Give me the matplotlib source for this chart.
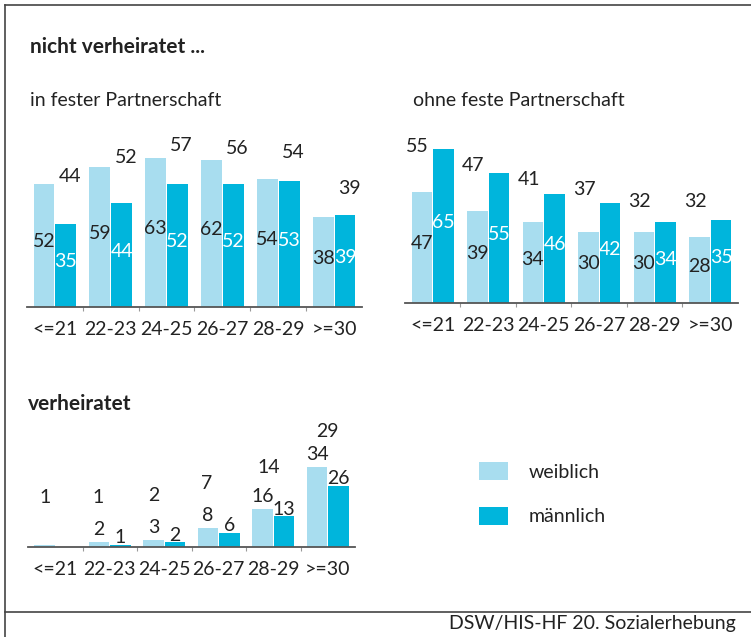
import matplotlib.pyplot as plt
import matplotlib.lines as mlines
import numpy as np

plt.rcParams['font.family'] = ['Lato', 'DejaVu Sans']

groups = ["<=21", "22-23", "24-25", "26-27", "28-29", ">=30"]

# nicht verheiratet, in fester Partnerschaft
fest_w = [52, 59, 63, 62, 54, 38]
fest_m = [35, 44, 52, 52, 53, 39]
fest_total = [44, 52, 57, 56, 54, 39]

# nicht verheiratet, ohne feste Partnerschaft
ohne_w = [47, 39, 34, 30, 30, 28]
ohne_m = [65, 55, 46, 42, 34, 35]
ohne_total = [55, 47, 41, 37, 32, 32]

# verheiratet
verh_w = [0.7, 2, 3, 8, 16, 34]
verh_m = [0, 1, 2, 6, 13, 26]
verh_total = [1, 1, 2, 7, 14, 29]

light = "#a8ddef"
dark = "#00b5dc"
txt = "#222222"
fs = 14
W, H = 751, 637

fig = plt.figure(figsize=(W / 100, H / 100), dpi=100)


def make_ax(left, right, base, top, scale):
    ax = fig.add_axes([left / W, (H - base) / H, (right - left) / W, (base - top) / H])
    ax.set_xlim(-0.5, 5.5)
    ax.set_ylim(0, (base - top) / scale)
    for s in ["top", "right", "left"]:
        ax.spines[s].set_visible(False)
    ax.spines["bottom"].set_color("#555555")
    ax.spines["bottom"].set_linewidth(1.3)
    ax.set_yticks([])
    ax.set_xticks(range(6))
    ax.set_xticklabels(groups, fontsize=fs, color=txt)
    ax.tick_params(axis="x", length=0, pad=10)
    ax.set_xticks(np.arange(0.5, 5.5, 1), minor=True)
    ax.tick_params(axis="x", which="minor", length=3, color="#999999", width=0.8)
    return ax


def bars(ax, w, m):
    x = np.arange(6)
    bw = 0.375
    ax.bar(x - 0.195, w, bw, color=light, linewidth=0)
    ax.bar(x + 0.195, m, bw, color=dark, linewidth=0)
    return x


def inside_panel(ax, w, m, tot, dx):
    x = bars(ax, w, m)
    for i in range(6):
        ax.text(x[i] - 0.195, w[i] / 2 + 1.5, str(w[i]), ha="center", va="center",
                fontsize=fs, color=txt)
        ax.text(x[i] + 0.195, m[i] / 2 + 1.5, str(m[i]), ha="center", va="center",
                fontsize=fs, color="white")
        ax.text(x[i] + dx, tot[i] + 11, str(tot[i]), ha="center", va="center",
                fontsize=fs, color=txt)


ax1 = make_ax(27, 362, 307, 130, 2.37)
inside_panel(ax1, fest_w, fest_m, fest_total, 0.27)

ax2 = make_ax(405, 738, 303, 130, 2.37)
inside_panel(ax2, ohne_w, ohne_m, ohne_total, -0.27)

ax3 = make_ax(28, 355, 547, 410, 2.35)
x = bars(ax3, verh_w, verh_m)
tot_dx = [-0.19, -0.21, -0.2, -0.22, -0.09, 0]
for i in range(6):
    if verh_w[i] >= 1:
        ax3.annotate(str(verh_w[i]), (x[i] - 0.195, verh_w[i]), xytext=(0, 9),
                     textcoords="offset points", ha="center", va="center",
                     fontsize=fs, color=txt)
    if verh_m[i] >= 1:
        ax3.annotate(str(verh_m[i]), (x[i] + 0.195, verh_m[i]), xytext=(0, 5),
                     textcoords="offset points", ha="center", va="center",
                     fontsize=fs, color=txt)
    ax3.text(x[i] + tot_dx[i], verh_total[i] + 20, str(verh_total[i]), ha="center",
             va="center", fontsize=fs, color=txt)

# titles
fig.text(30 / W, 1 - 47 / H, "nicht verheiratet ...", fontsize=15, fontweight="bold",
         color=txt, va="center")
fig.text(30 / W, 1 - 100 / H, "in fester Partnerschaft", fontsize=fs, color=txt, va="center")
fig.text(413 / W, 1 - 100 / H, "ohne feste Partnerschaft", fontsize=fs, color=txt, va="center")
fig.text(28 / W, 1 - 404 / H, "verheiratet", fontsize=15, fontweight="bold", color=txt,
         va="center")

# legend
for y0, col, lab in [(462, light, "weiblich"), (507, dark, "männlich")]:
    fig.patches.append(plt.Rectangle((479 / W, 1 - (y0 + 18) / H), 29 / W, 18 / H,
                                     transform=fig.transFigure, color=col, lw=0))
    fig.text(529 / W, 1 - (y0 + 10) / H, lab, fontsize=fs, color=txt, va="center")

# frame
fc = "#444444"
fig.add_artist(mlines.Line2D([5 / W, 5 / W], [0, 1 - 5 / H], color=fc, lw=1.2))
fig.add_artist(mlines.Line2D([5 / W, 1], [1 - 5 / H, 1 - 5 / H], color=fc, lw=1.2))
fig.add_artist(mlines.Line2D([5 / W, 1], [1 - 612 / H, 1 - 612 / H], color=fc, lw=1.2))

fig.text(736 / W, 1 - 624 / H, "DSW/HIS-HF 20. Sozialerhebung", fontsize=fs, color=txt,
         ha="right", va="center")

fig.savefig("out.png", dpi=100)
